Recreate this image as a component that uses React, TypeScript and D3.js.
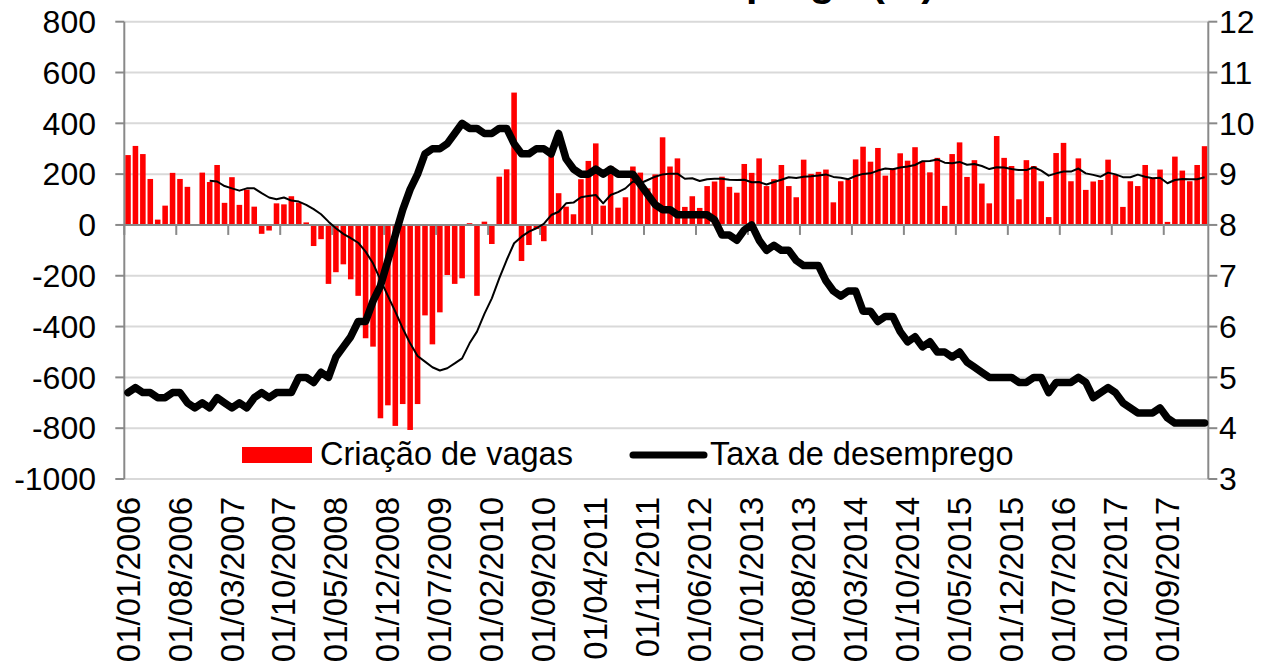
import React from 'react';
import * as d3 from 'd3';

// criação de vagas (mil), mensal jan/2006 - fev/2018
const vagas = [
  275, 311, 279, 181, 21, 76, 205, 181, 150, 3, 206, 169,
  236, 87, 188, 79, 139, 72, -35, -22, 85, 81, 113, 88,
  10, -83, -56, -232, -186, -155, -214, -279, -446, -479, -761, -710,
  -791, -705, -807, -705, -356, -470, -344, -197, -232, -210, 7, -279,
  13, -75, 190, 219, 521, -142, -79, -16, -64, 302, 125, 72,
  42, 180, 252, 321, 76, 232, 68, 109, 230, 206, 144, 199,
  345, 230, 262, 71, 113, 67, 153, 171, 190, 150, 127, 240,
  205, 262, 153, 180, 236, 153, 109, 257, 201, 209, 218, 89,
  172, 177, 258, 308, 249, 303, 194, 223, 282, 253, 306, 249,
  207, 264, 75, 279, 325, 189, 255, 163, 85, 350, 264, 232,
  101, 255, 232, 172, 31, 283, 323, 172, 262, 138, 171, 177,
  257, 197, 71, 172, 153, 236, 182, 218, 12, 269, 214, 172,
  236, 310,
];

// média móvel de 12 meses, a partir de dez/2006
const mediaInicio = 11;
const mediaMovel = [
  174, 171, 153, 144, 135, 144, 144, 125, 108, 101, 108, 96, 92,
  79, 62, 42, 13, -13, -35, -52, -70, -105, -151, -216, -279,
  -341, -407, -466, -516, -538, -560, -573, -564, -545, -525, -466, -420,
  -350, -289, -210, -138, -72, -46, -26, -13, 4, 39, 52, 85,
  88, 109, 114, 118, 85, 118, 129, 144, 171, 164, 177, 190,
  199, 202, 202, 182, 184, 173, 180, 182, 182, 178, 177, 178,
  168, 169, 159, 169, 178, 188, 185, 190, 192, 195, 199, 189,
  186, 180, 193, 201, 203, 214, 222, 219, 226, 230, 236, 251,
  252, 258, 245, 243, 248, 237, 240, 232, 220, 227, 226, 220,
  216, 216, 227, 214, 194, 203, 210, 210, 222, 203, 197, 190,
  206, 199, 188, 188, 198, 190, 184, 186, 164, 177, 181, 180,
  180, 188,
];

// taxa de desemprego (%)
const desemprego = [
  4.7, 4.8, 4.7, 4.7, 4.6, 4.6, 4.7, 4.7, 4.5, 4.4, 4.5, 4.4,
  4.6, 4.5, 4.4, 4.5, 4.4, 4.6, 4.7, 4.6, 4.7, 4.7, 4.7, 5.0,
  5.0, 4.9, 5.1, 5.0, 5.4, 5.6, 5.8, 6.1, 6.1, 6.5, 6.8, 7.3,
  7.8, 8.3, 8.7, 9.0, 9.4, 9.5, 9.5, 9.6, 9.8, 10.0, 9.9, 9.9,
  9.8, 9.8, 9.9, 9.9, 9.6, 9.4, 9.4, 9.5, 9.5, 9.4, 9.8, 9.3,
  9.1, 9.0, 9.0, 9.1, 9.0, 9.1, 9.0, 9.0, 9.0, 8.8, 8.6, 8.4,
  8.3, 8.3, 8.2, 8.2, 8.2, 8.2, 8.2, 8.1, 7.8, 7.8, 7.7, 7.9,
  8.0, 7.7, 7.5, 7.6, 7.5, 7.5, 7.3, 7.2, 7.2, 7.2, 6.9, 6.7,
  6.6, 6.7, 6.7, 6.3, 6.3, 6.1, 6.2, 6.2, 5.9, 5.7, 5.8, 5.6,
  5.7, 5.5, 5.5, 5.4, 5.5, 5.3, 5.2, 5.1, 5.0, 5.0, 5.0, 5.0,
  4.9, 4.9, 5.0, 5.0, 4.7, 4.9, 4.9, 4.9, 5.0, 4.9, 4.6, 4.7,
  4.8, 4.7, 4.5, 4.4, 4.3, 4.3, 4.3, 4.4, 4.2, 4.1, 4.1, 4.1,
  4.1, 4.1,
];

const rotulosX = [
  '01/01/2006', '01/08/2006', '01/03/2007', '01/10/2007', '01/05/2008',
  '01/12/2008', '01/07/2009', '01/02/2010', '01/09/2010', '01/04/2011',
  '01/11/2011', '01/06/2012', '01/01/2013', '01/08/2013', '01/03/2014',
  '01/10/2014', '01/05/2015', '01/12/2015', '01/07/2016', '01/02/2017',
  '01/09/2017',
];

const ticksEsq = [800, 600, 400, 200, 0, -200, -400, -600, -800, -1000];
const ticksDir = [12, 11, 10, 9, 8, 7, 6, 5, 4, 3];

const fmt = d3.timeFormat('%Y-%m');
const meses = d3.timeMonth.range(new Date(2006, 0, 1), new Date(2018, 2, 1)).map(fmt);

const W = 1278, H = 665;
const left = 124.3, right = 1208.3, top = 21.7, bottom = 479;
const font = '"Liberation Sans", Arial, sans-serif';
const gray = '#898989';
const grid = '#d9d9d9';

const x = d3.scaleBand().domain(meses).range([left, right]).paddingInner(0.25).paddingOuter(0.125);
const step = x.step();
const yL = d3.scaleLinear().domain([-1000, 800]).range([bottom, top]);
const yR = d3.scaleLinear().domain([3, 12]).range([bottom, top]);
const cx = (m: string) => (x(m) as number) + x.bandwidth() / 2;

const lineVagas = d3.line<number>()
  .x((_, i) => cx(meses[i + mediaInicio]))
  .y(d => yL(d));
const lineDes = d3.line<number>()
  .x((_, i) => cx(meses[i]))
  .y(d => yR(d));

const App = () => {
  const labelKey = (s: string) => s.slice(6) + '-' + s.slice(3, 5);
  return (
    <svg width={W} height={H} style={{ position: 'absolute', left: 0, top: 0, background: '#fff' }}
      fontFamily={font}>
      <text x={935} y={-4} textAnchor="end" fontSize={41} fontWeight="bold">Taxa de desemprego (%)</text>

      {ticksEsq.map(t => (
        <line key={'g' + t} x1={left} x2={right} y1={yL(t)} y2={yL(t)} stroke={grid} strokeWidth={2} />
      ))}

      {vagas.map((v, i) => (
        <rect key={'b' + i} x={x(meses[i])} width={x.bandwidth()}
          y={yL(Math.max(0, v))} height={Math.abs(yL(v) - yL(0))} fill="#ff0000" />
      ))}

      {/* eixo x no zero */}
      <line x1={left} x2={right} y1={yL(0)} y2={yL(0)} stroke={gray} strokeWidth={2} />
      {d3.range(0, meses.length, 7).map(i => (
        <line key={'t' + i} x1={left + i * step} x2={left + i * step} y1={yL(0)} y2={yL(0) + 10}
          stroke={gray} strokeWidth={2} />
      ))}

      {/* eixos verticais */}
      <line x1={left} x2={left} y1={top} y2={bottom} stroke={gray} strokeWidth={2} />
      <line x1={right} x2={right} y1={top} y2={bottom} stroke={gray} strokeWidth={2} />
      {ticksEsq.map(t => (
        <g key={'l' + t}>
          <line x1={left - 9} x2={left} y1={yL(t)} y2={yL(t)} stroke={gray} strokeWidth={2} />
          <text x={96} y={yL(t)} dy="0.35em" textAnchor="end" fontSize={32}>{t}</text>
        </g>
      ))}
      {ticksDir.map(t => (
        <g key={'r' + t}>
          <line x1={right} x2={right + 9} y1={yR(t)} y2={yR(t)} stroke={gray} strokeWidth={2} />
          <text x={1219} y={yR(t)} dy="0.35em" textAnchor="start" fontSize={32}>{t}</text>
        </g>
      ))}

      {rotulosX.map(s => {
        const px = cx(labelKey(s));
        return (
          <text key={s} transform={`translate(${px},497) rotate(-90)`} dy="0.35em" textAnchor="end" fontSize={33}>{s}</text>
        );
      })}

      <path d={lineVagas(mediaMovel) || ''} fill="none" stroke="#000" strokeWidth={2} strokeLinejoin="round" />
      <path d={lineDes(desemprego) || ''} fill="none" stroke="#000" strokeWidth={7.5} strokeLinejoin="round" strokeLinecap="round" />

      {/* legenda */}
      <rect x={242} y={447} width={70} height={16} fill="#ff0000" />
      <text x={320} y={465} fontSize={32.5}>Criação de vagas</text>
      <line x1={633} x2={704} y1={455} y2={455} stroke="#000" strokeWidth={7} strokeLinecap="round" />
      <text x={710} y={465} fontSize={32.5}>Taxa de desemprego</text>
    </svg>
  );
};

export default App;
